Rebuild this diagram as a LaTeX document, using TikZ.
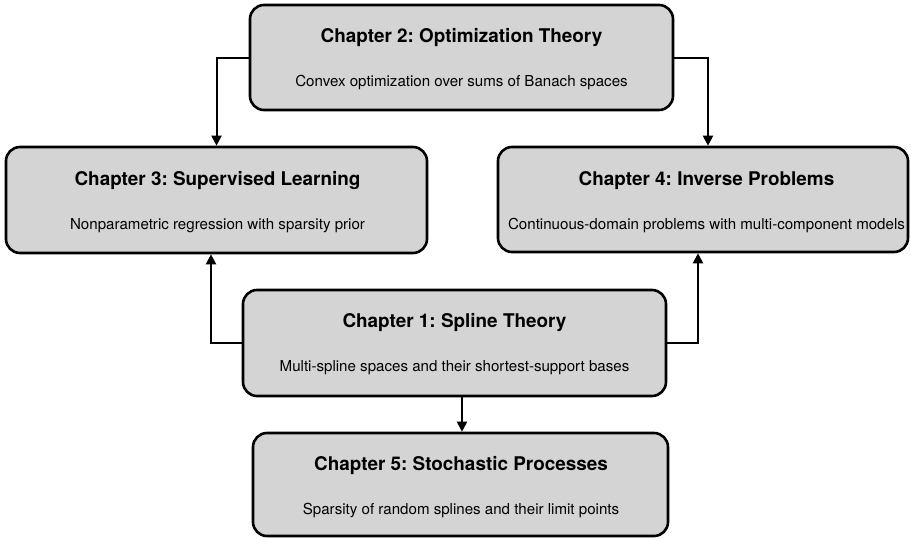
\documentclass[tikz,border=0pt]{standalone}
\usepackage{fontspec}
\setmainfont{TeX Gyre Heros}
\usetikzlibrary{arrows.meta}
\definecolor{boxgray}{HTML}{D4D4D4}
\tikzset{
  chapbox/.style={draw=black, line width=2.6pt, fill=boxgray, rounded corners=14pt, inner sep=0pt},
  ttl/.style={font=\fontsize{18.9}{22}\selectfont\bfseries, inner sep=0pt},
  sub/.style={font=\fontsize{15.1}{18}\selectfont, inner sep=0pt},
  arr/.style={line width=2pt, -{Triangle[length=10pt,width=10pt]}}
}
\begin{document}
\frenchspacing
\begin{tikzpicture}[x=1pt,y=-1pt]
\useasboundingbox (0,0) rectangle (911,538);
\begin{scope}
\clip (0,0) rectangle (911,538);
\node[chapbox, minimum width=423pt, minimum height=105pt] (b2) at (461.5,57.5) {};
\node[chapbox, minimum width=421pt, minimum height=106pt] (b3) at (216.5,200) {};
\node[chapbox, minimum width=410pt, minimum height=105pt] (b4) at (703,199.5) {};
\node[chapbox, minimum width=423pt, minimum height=106pt] (b1) at (454.5,343) {};
\node[chapbox, minimum width=415pt, minimum height=103pt] (b5) at (460.5,484.5) {};

\node[ttl] (t2) at (461.5,38) {Chapter 2: Optimization Theory};
\node[sub] (s2) at (461.5,83) {Convex optimization over sums of Banach spaces};
\node[ttl] (t3) at (217.5,181) {Chapter 3: Supervised Learning};
\node[sub] (s3) at (217.5,226) {Nonparametric regression with sparsity prior};
\node[ttl] (t4) at (706.5,181) {Chapter 4: Inverse Problems};
\node[sub] (s4) at (706.5,226) {Continuous-domain problems with multi-component models};
\node[ttl] (t1) at (454.5,323) {Chapter 1: Spline Theory};
\node[sub] (s1) at (454.5,368) {Multi-spline spaces and their shortest-support bases};
\node[ttl] (t5) at (461,466) {Chapter 5: Stochastic Processes};
\node[sub] (s5) at (461,511) {Sparsity of random splines and their limit points};
\end{scope}

\draw[arr] (b2.west) -| (b3.north);
\draw[arr] (b2.east) -| ([xshift=5pt]b4.north);
\draw[arr] (b1.west) -| ([xshift=-5.5pt]b3.south);
\draw[arr] (b1.east) -| ([xshift=-5pt]b4.south);
\draw[arr] ([xshift=1.5pt]b5.north |- b1.south) -- ([xshift=1.5pt]b5.north);
\end{tikzpicture}
\end{document}
